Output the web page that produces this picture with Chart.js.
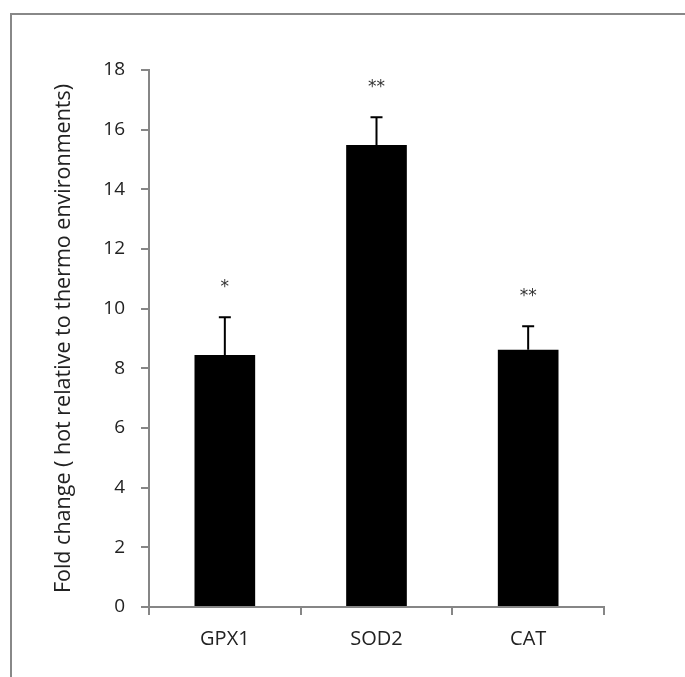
<!DOCTYPE html>
<html>
<head>
<meta charset="utf-8">
<script src="https://cdn.jsdelivr.net/npm/chart.js@4"></script>
<style>
  html, body { margin: 0; padding: 0; background: #fff; }
  #wrap { position: relative; width: 685px; height: 677px; }
</style>
</head>
<body>
<div id="wrap"><canvas id="chart" width="685" height="677"></canvas></div>
<script>
// data
const genes = ['GPX1', 'SOD2', 'CAT'];
const foldChange = [8.45, 15.49, 8.62];
const errorUp = [1.26, 0.93, 0.79];
const stars = ['*', '**', '**'];
const yTicks = [0, 2, 4, 6, 8, 10, 12, 14, 16, 18];

const axisGray = '#868686';
const font = '"Open Sans", Lato, sans-serif';

// outer frame of the chart area (Excel style), only top/left visible
const framePlugin = {
  id: 'frame',
  beforeDraw(chart) {
    const ctx = chart.ctx;
    ctx.save();
    ctx.strokeStyle = '#888';
    ctx.lineWidth = 2;
    ctx.strokeRect(11, 14, 900, 900);
    ctx.restore();
  }
};

// error bars + significance stars
const errorPlugin = {
  id: 'errors',
  afterDatasetsDraw(chart) {
    const ctx = chart.ctx;
    const x = chart.scales.x, y = chart.scales.y;
    ctx.save();
    genes.forEach((g, i) => {
      const px = x.getPixelForValue(i);
      const top = y.getPixelForValue(foldChange[i] + errorUp[i]);
      const base = y.getPixelForValue(foldChange[i]);
      ctx.strokeStyle = '#000';
      ctx.lineWidth = 2;
      ctx.beginPath();
      ctx.moveTo(px, base);
      ctx.lineTo(px, top);
      ctx.moveTo(px - 6, top);
      ctx.lineTo(px + 6, top);
      ctx.stroke();
      ctx.fillStyle = '#333';
      ctx.font = '17px "DejaVu Sans", sans-serif';
      ctx.textAlign = 'center';
      ctx.textBaseline = 'middle';
      ctx.fillText(stars[i], px, top - 30);
    });
    ctx.restore();
  }
};

new Chart(document.getElementById('chart'), {
  type: 'bar',
  data: {
    labels: genes,
    datasets: [{
      data: foldChange,
      backgroundColor: '#000',
      borderWidth: 0,
      barPercentage: 0.4,
      categoryPercentage: 1.0
    }]
  },
  options: {
    responsive: false,
    animation: false,
    devicePixelRatio: 1,
    layout: { padding: { left: 0, top: 70, right: 81, bottom: 0 } },
    plugins: { legend: { display: false }, tooltip: { enabled: false } },
    scales: {
      x: {
        afterFit(s) { s.height = 70; },
        grid: { display: true, offset: true, drawOnChartArea: false, tickLength: 8, color: axisGray, lineWidth: 2 },
        border: { display: true, color: axisGray, width: 2 },
        ticks: { color: '#222', padding: 12, font: { family: font, size: 20 } }
      },
      y: {
        min: 0,
        max: 18,
        afterFit(s) { s.width = 149; },
        afterBuildTicks(s) { s.ticks = yTicks.map(v => ({ value: v })); },
        grid: { display: true, drawOnChartArea: false, tickLength: 8, color: axisGray, lineWidth: 2 },
        border: { display: true, color: axisGray, width: 2 },
        ticks: { color: '#222', padding: 16, font: { family: font, size: 19 } },
        title: {
          display: true,
          text: 'Fold change ( hot relative to thermo environments)',
          color: '#222',
          font: { family: font, size: 21.5 },
          padding: { top: 51, bottom: 0 }
        }
      }
    }
  },
  plugins: [framePlugin, errorPlugin]
});
</script>
</body>
</html>
